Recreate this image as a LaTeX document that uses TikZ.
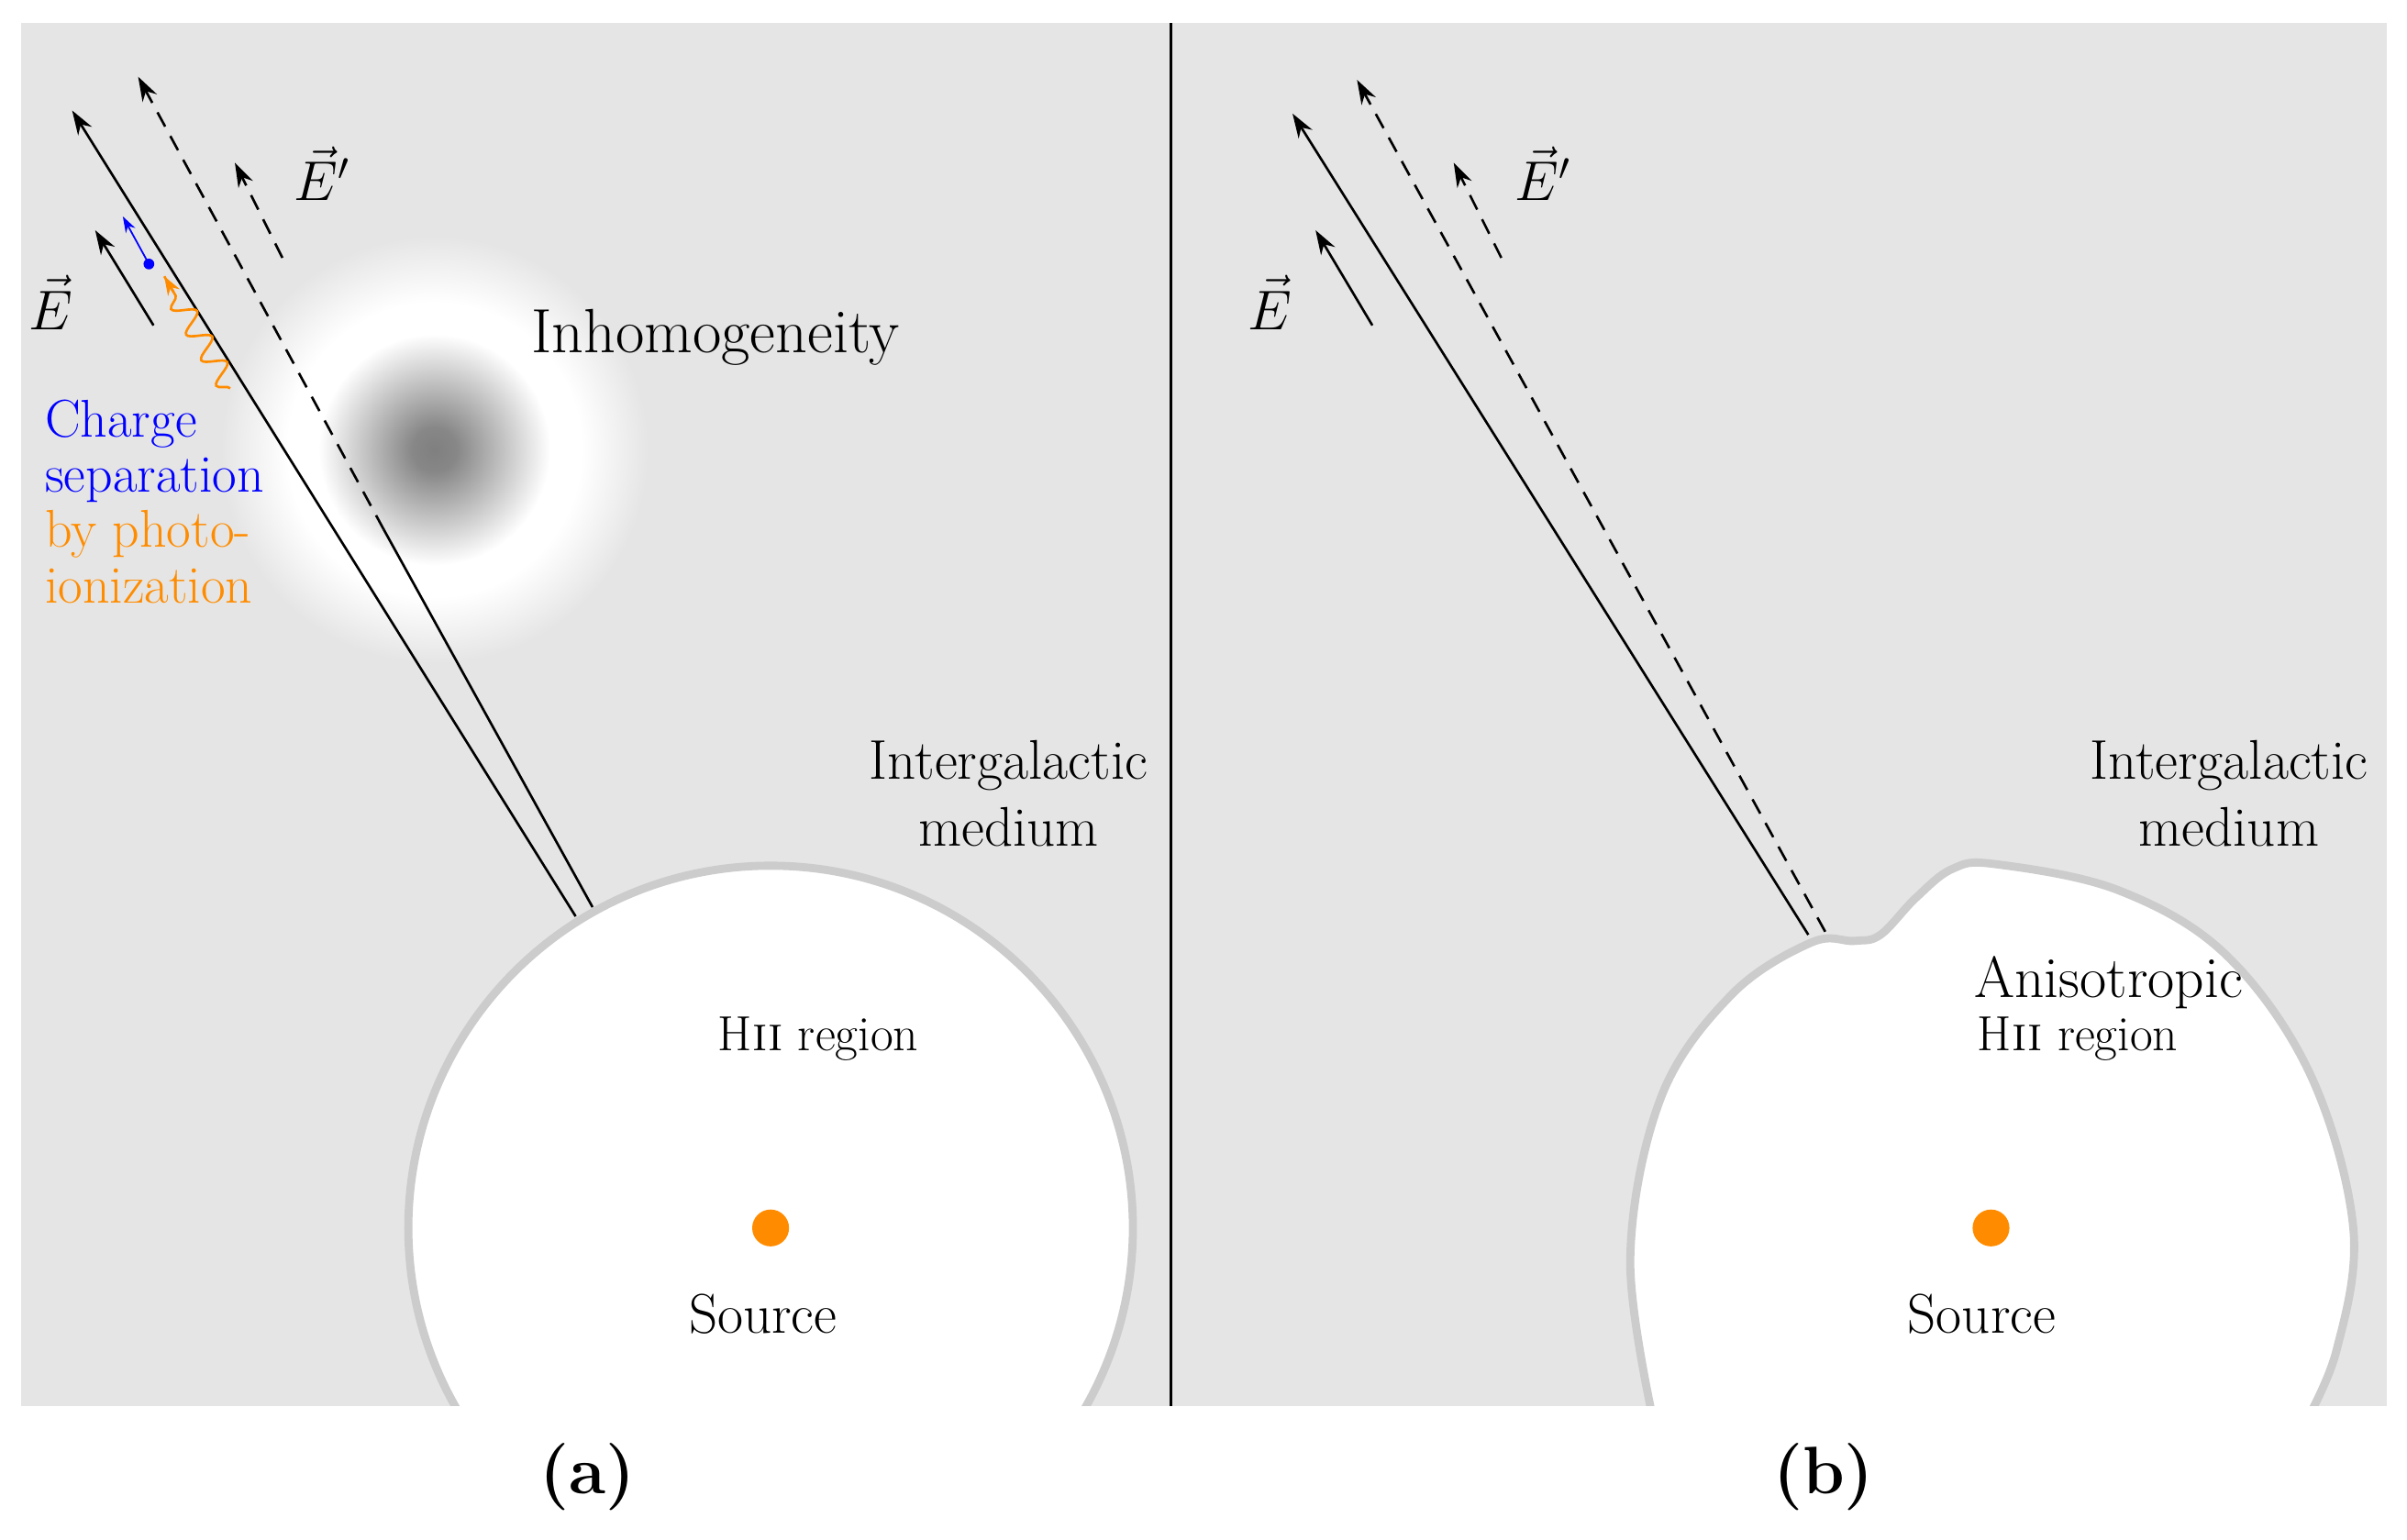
\documentclass[tikz,border=0pt]{standalone}
\usepackage{amsmath,amssymb}
\usetikzlibrary{arrows.meta,decorations.pathmorphing,calc}
\definecolor{srcorange}{RGB}{255,140,0}
\definecolor{bggray}{RGB}{229,229,229}
\pgfdeclareradialshading{inhomo}{\pgfpoint{0bp}{0bp}}{color(0bp)=(black!50); color(2.5bp)=(black!47); color(13bp)=(white); color(16.5bp)=(white); color(24bp)=(bggray); color(50bp)=(bggray)}
\tikzset{
  field/.style={line width=0.9pt,-{Stealth[length=9pt,width=6pt]}},
  fieldp/.style={field,dashed,dash pattern=on 6pt off 4pt},
  hii/.style={draw=black!20,line width=3pt,fill=white},
  lbl/.style={font=\huge},
  small lbl/.style={font=\fontsize{18.3}{22}\selectfont},
  panel/.style={font=\Huge\bfseries}
}
\begin{document}
\begin{tikzpicture}[x=0.02cm,y=-0.02cm]
\useasboundingbox (0,0) rectangle (1568,1003);
% backgrounds
\fill[bggray] (14,15) rectangle (1555,916);
\coordinate (divtop) at (763,15);
\coordinate (divbot) at (763,916);
\draw[line width=1pt] (divtop) -- (divbot);
% panel (a)
\begin{scope}
\clip (14,15) rectangle (762,916);
\shade[shading=inhomo] (283,293) circle (145);
\draw[hii] (502,800) circle (236);
\end{scope}
\fill[srcorange] (502,800) circle (12);
\node[lbl] (srcA) at (497,856) {Source};
\node[small lbl] (hiiA) at (533,677) {H\textsc{ii} region};
\node[lbl,align=center] (igmA) at (657,517) {Intergalactic\\medium};
\node[font=\fontsize{23.2}{28}\selectfont] (inh) at (466,220) {Inhomogeneity};
\coordinate (sA1) at (375,597);
\coordinate (eA1) at (47,72);
\coordinate (sA2) at (386,591);
\coordinate (mA2) at (250,345);
\coordinate (eA2) at (90,50);
\draw[field] (sA1) -- (eA1);
\draw[line width=0.9pt] (sA2) -- (mA2);
\draw[fieldp] (mA2) -- (eA2);
\coordinate (eS1) at (100,212);
\coordinate (eE1) at (62,150);
\draw[field] (eS1) -- (eE1);
\coordinate (pS1) at (184,168);
\coordinate (pE1) at (153,106);
\draw[fieldp] (pS1) -- (pE1);
\node[lbl] (labE1) at (33,197) {$\vec{E}$};
\node[lbl] (labP1) at (210,113) {$\vec{E}'$};
\coordinate (elec) at (97,172);
\coordinate (elecE) at (80,141);
\fill[blue] (elec) circle (3.5);
\draw[blue,line width=0.6pt,-{Stealth[length=6pt,width=4pt]}] (elec) -- (elecE);
\coordinate (phS) at (150,253);
\coordinate (phE) at (107,180);
\draw[srcorange,line width=0.9pt,decorate,decoration={snake,amplitude=4pt,segment length=11pt,post length=8pt}] (phS) -- (phE);
\draw[srcorange,line width=0.9pt,-{Stealth[length=7pt,width=5pt]}] ($(phS)!0.86!(phE)$) -- (phE);
\node[font=\fontsize{19.7}{20.5}\selectfont,align=left,anchor=north west,inner sep=0pt] (chg) at (29,260)
  {\textcolor{blue}{Charge}\\\textcolor{blue}{separation}\\\textcolor{srcorange}{by photo-}\\\textcolor{srcorange}{ionization}};
\node[panel] (pa) at (383,962) {(a)};
% panel (b)
\begin{scope}
\clip (764,15) rectangle (1555,916);
\draw[hii] plot[smooth,tension=0.6] coordinates {(1078,930) (1062,820) (1082,715) (1128,648) (1180,614) (1208,613) (1225,609) (1248,585) (1272,566) (1300,563) (1380,580) (1450,622) (1505,700) (1533,800) (1522,880) (1500,930)};
\end{scope}
\fill[srcorange] (1297,800) circle (12);
\node[lbl] (srcB) at (1291,856) {Source};
\node[font=\fontsize{21.6}{26}\selectfont,anchor=west] (aniB) at (1280,640) {Anisotropic};
\node[small lbl,anchor=west] (hiiB) at (1282,677) {H\textsc{ii} region};
\node[lbl,align=center] (igmB) at (1452,517) {Intergalactic\\medium};
\coordinate (sB1) at (1178,609);
\coordinate (eB1) at (842,74);
\coordinate (sB2) at (1189,607);
\coordinate (eB2) at (884,52);
\draw[field] (sB1) -- (eB1);
\draw[fieldp] (sB2) -- (eB2);
\coordinate (eS2) at (894,212);
\coordinate (eE2) at (857,150);
\draw[field] (eS2) -- (eE2);
\coordinate (pS2) at (978,168);
\coordinate (pE2) at (947,106);
\draw[fieldp] (pS2) -- (pE2);
\node[lbl] (labE2) at (827,197) {$\vec{E}$};
\node[lbl] (labP2) at (1005,113) {$\vec{E}'$};
\node[panel] (pb) at (1188,962) {(b)};
\end{tikzpicture}
\end{document}
